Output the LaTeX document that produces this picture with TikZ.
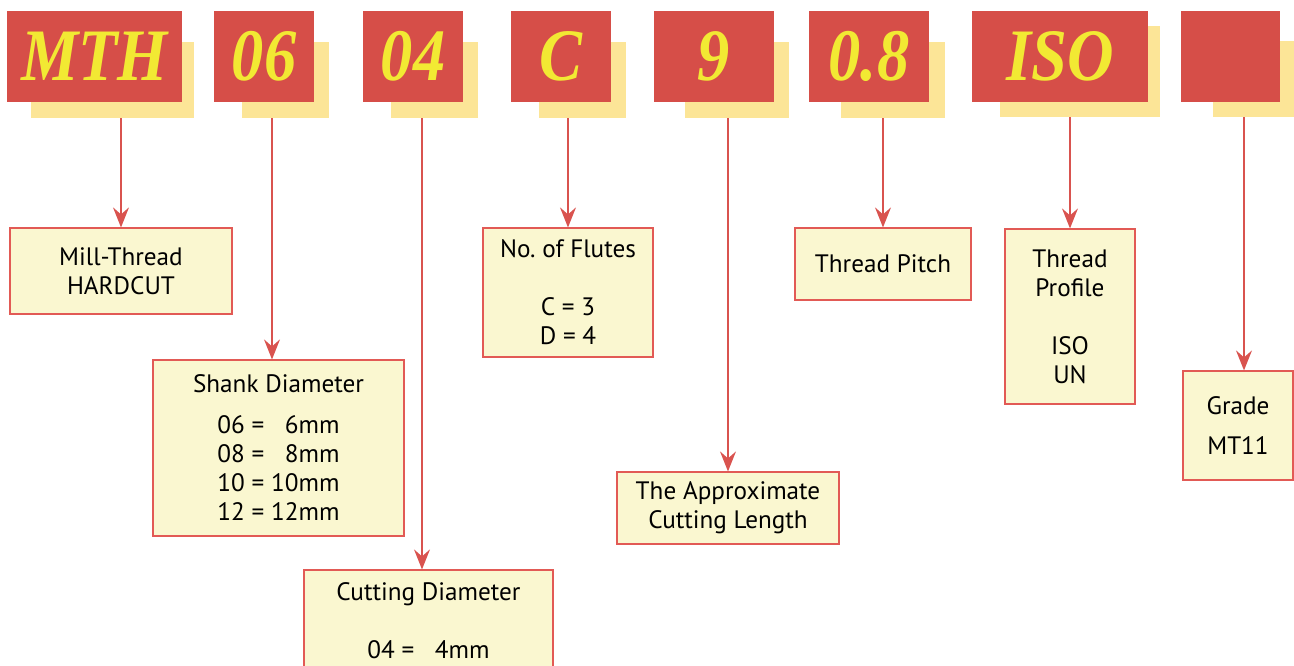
\documentclass[tikz,border=0pt]{standalone}
\usepackage{fontspec}
\setmainfont{PT Sans}
\newfontfamily\tagfont[FakeStretch=0.87]{Liberation Serif}
\usepackage{tikz}
\usetikzlibrary{arrows.meta}

\definecolor{tagred}{RGB}{214,78,72}
\definecolor{tagshade}{RGB}{252,229,151}
\definecolor{tagtext}{RGB}{242,233,51}
\definecolor{infofill}{RGB}{250,247,208}
\definecolor{infoline}{RGB}{226,90,85}
\definecolor{arrowred}{RGB}{217,83,79}

\begin{document}
\begin{tikzpicture}[x=1pt,y=-1pt,
		>={Stealth[length=20pt,width=16pt,inset=7pt]},
		arr/.style={->,draw=arrowred,fill=arrowred,line width=1.5pt},
		tag/.style={fill=tagred,text=tagtext,inner sep=0pt,minimum height=91,
			font=\tagfont\bfseries\itshape\fontsize{74}{74}\selectfont},
		shade/.style={fill=tagshade,inner sep=0pt,minimum height=76},
		info/.style={draw=infoline,fill=infofill,line width=1.2pt,inner sep=0pt,
			align=center,font=\fontsize{25.2}{29}\selectfont}]
		\useasboundingbox (0,0) rectangle (1294,666);

		% code tags
		\node[shade,minimum width=163] (mthsh) at (112.5,80) {};
		\node[shade,minimum width=87]  (shsh)  at (285.5,80) {};
		\node[shade,minimum width=87]  (cdsh)  at (434.5,80) {};
		\node[shade,minimum width=87]  (flsh)  at (582.5,80) {};
		\node[shade,minimum width=104] (lensh) at (737,80)   {};
		\node[shade,minimum width=104] (pish)  at (893,80)   {};
		\node[shade,minimum width=160,minimum height=91] (prsh) at (1080,71.5) {};
		\node[shade,minimum width=81]  (grsh)  at (1253.5,79) {};

		\node[tag,minimum width=175] (mth)   at (94.5,56.5)  {MTH};
		\node[tag,minimum width=100] (shank) at (264,56.5)   {06};
		\node[tag,minimum width=100] (cdia)  at (413,56.5)   {04};
		\node[tag,minimum width=100] (flute) at (561,56.5)   {C};
		\node[tag,minimum width=120] (len)   at (714,56.5)   {9};
		\node[tag,minimum width=120] (pitch) at (869,56.5)   {0.8};
		\node[tag,minimum width=176] (prof)  at (1060,56.5)  {ISO};
		\node[tag,minimum width=99]  (grade) at (1230.5,56.5) {};

		% meaning boxes
		\node[info,minimum width=222,minimum height=86]  (mill)    at (121,271)   {Mill-Thread\\HARDCUT};
		\node[info,minimum width=251,minimum height=176] (shankd)  at (278.5,448) {Shank Diameter\\[12pt]
			06 = \hphantom{1}6mm\\08 = \hphantom{1}8mm\\10 = 10mm\\12 = 12mm};
		\node[info,minimum width=249,minimum height=102] (cutd)    at (428.5,621) {Cutting Diameter\\[29pt]04 = \hphantom{1}4mm};
		\node[info,minimum width=170,minimum height=129] (flutes)  at (568,292.5) {No.\ of Flutes\\[29pt]C = 3\\D = 4};
		\node[info,minimum width=222,minimum height=72]  (approx)  at (728,508)   {The Approximate\\Cutting Length};
		\node[info,minimum width=176,minimum height=72]  (tpitch)  at (883,264)   {Thread Pitch};
		\node[info,minimum width=130,minimum height=175] (profile) at (1070,316.5) {Thread\\Profile\\[29pt]ISO\\UN};
		\node[info,minimum width=110,minimum height=109] (gradeb)  at (1238,425.5) {Grade\\[11pt]MT11};

		\coordinate (shin) at ([xshift=-6.5pt]shankd.north);
		\coordinate (cdin) at ([xshift=-6.5pt]cutd.north);
		\coordinate (grin) at ([xshift=6pt]gradeb.north);

		\path
			(mthsh.south -| mill.north) edge [arr] (mill.north)
			(shsh.south -| shin)        edge [arr] (shin)
			(cdsh.south -| cdin)        edge [arr] (cdin)
			(flsh.south -| flutes.north) edge [arr] (flutes.north)
			(lensh.south -| approx.north) edge [arr] (approx.north)
			(pish.south -| tpitch.north) edge [arr] (tpitch.north)
			(prsh.south -| profile.north) edge [arr] (profile.north)
			(grsh.south -| grin)        edge [arr] (grin);
	\end{tikzpicture}
\end{document}
